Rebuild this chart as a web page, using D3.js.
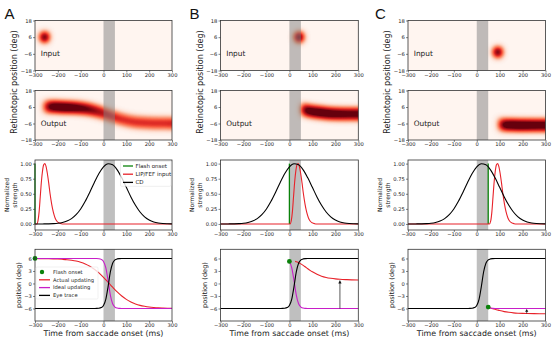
<!DOCTYPE html>
<html><head><meta charset="utf-8">
<script src="https://cdn.jsdelivr.net/npm/d3@7"></script>
<style>body{margin:0;background:#fff}svg{display:block}</style>
</head><body><svg id="c" width="554" height="337"></svg>
<script>
// ---------------- DATA ----------------
const timeTicks=[-300,-200,-100,0,100,200,300];
const mapPosTicks=[-18,-6,6,18];
const strengthTicks=[0,0.25,0.5,0.75,1];
const posTicks=[-6,-3,0,3,6];
const saccadeWindow=[0,50];
const panelLetters=["A","B","C"];
const strengthLegend=["Flash onset","LIP/FEF input","CD"];
const posLegend=["Flash onset","Actual updating","Ideal updating","Eye trace"];

const flashTime=[-300,0,50];
const flashPos=[6,5.28,-5.65];

// input blobs (heatmap row 1)
const inputTime=[-258,42,92];
const inputPos=[6,6,-4.8];
const inputPeak=[1,1,1];

// output bands (heatmap row 2)
const outputTimeA=[-266,-256,-246,-236,-220,-200,-170,-140,-110,-80,-50,-25,0,25,50,75,100,130,160,200,250,300];
const outputPosA=[6.2,6.2,6.2,6.2,6.1,6.0,5.8,5.6,5.3,4.7,3.8,2.7,1.5,0,-1.5,-2.8,-3.8,-4.7,-5.25,-5.65,-5.85,-5.95];
const outputIntA=[0.2,0.55,0.8,0.9,0.97,1,1,0.97,0.92,0.86,0.8,0.74,0.68,0.63,0.6,0.58,0.57,0.57,0.57,0.57,0.57,0.57];
const outputTimeB=[50,57,67,80,100,125,150,175,200,250,300];
const outputPosB=[4.4,4.2,3.8,3.3,2.7,2.1,1.65,1.35,1.15,0.95,0.85];
const outputIntB=[0.45,0.8,0.9,0.95,0.98,1,1,0.98,0.95,0.92,0.9];
const outputTimeC=[94,102,115,130,150,175,200,250,300];
const outputPosC=[-6.6,-6.7,-6.9,-7.0,-7.1,-7.2,-7.25,-7.3,-7.3];
const outputIntC=[0.45,0.75,0.92,0.97,1,1,1,0.97,0.95];

// normalized strength (row 3)
const cdTime=[-300,-280,-260,-240,-220,-200,-180,-160,-140,-120,-100,-80,-60,-40,-20,0,20,40,60,80,100,120,140,160,180,200,220,240,260,280,300];
const cdValue=[0,0,0.001,0.002,0.005,0.011,0.024,0.048,0.089,0.154,0.249,0.375,0.526,0.687,0.835,0.946,0.998,0.98,0.897,0.764,0.607,0.448,0.309,0.198,0.118,0.066,0.034,0.016,0.007,0.003,0.001];
const lipTimeA=[-300,-292,-287,-282,-277,-272,-267,-262,-257,-252,-246,-240,-234,-227,-220,-212,-204,-195,-185,-175,300];
const lipValueA=[0,0,0.05,0.2,0.45,0.7,0.88,0.98,1,0.96,0.84,0.68,0.5,0.33,0.2,0.1,0.045,0.018,0.005,0,0];
const lipTimeB=[-300,3,8,13,18,23,28,33,38,43,49,55,61,68,75,83,91,100,110,120,300];
const lipValueB=[0,0,0.05,0.2,0.45,0.7,0.88,0.98,1,0.96,0.84,0.68,0.5,0.33,0.2,0.1,0.045,0.018,0.005,0,0];
const lipTimeC=[-300,55,61,66,71,76,81,86,91,96,102,108,114,121,128,136,144,153,163,173,300];
const lipValueC=[0,0,0.05,0.2,0.45,0.7,0.88,0.98,1,0.96,0.84,0.68,0.5,0.33,0.2,0.1,0.045,0.018,0.005,0,0];

// position traces (row 4)
const eyeTime=[-300,-60,-40,-30,-20,-10,0,10,20,30,40,50,60,70,80,300];
const eyePos=[-6,-6,-5.99,-5.98,-5.94,-5.78,-5.28,-3.81,-0.75,2.77,4.86,5.65,5.9,5.97,6,6];
const idealTimeA=[-300,-60,-40,-30,-20,-10,0,10,20,30,40,50,60,70,80,300];
const idealPosA=[6,6,5.99,5.98,5.94,5.78,5.28,3.81,0.75,-2.77,-4.86,-5.65,-5.9,-5.97,-6,-6];
const idealTimeB=[0,10,20,30,40,50,60,70,80,300];
const idealPosB=[5.28,3.81,0.75,-2.77,-4.86,-5.65,-5.9,-5.97,-6,-6];
const idealTimeC=[50,60,70,80,300];
const idealPosC=[-5.65,-5.9,-5.97,-6,-6];
const actualTimeA=[-300,-280,-260,-240,-220,-200,-180,-160,-140,-120,-100,-80,-60,-40,-20,0,20,40,60,80,100,120,140,160,180,200,220,240,260,280,300];
const actualPosA=[5.98,5.97,5.96,5.94,5.91,5.87,5.80,5.71,5.57,5.38,5.09,4.69,4.15,3.43,2.53,1.47,0.30,-0.89,-2.02,-3.0,-3.81,-4.43,-4.91,-5.25,-5.48,-5.65,-5.76,-5.84,-5.89,-5.93,-5.95];
const actualTimeB=[25,30,40,50,60,70,80,90,100,120,140,160,180,200,220,250,300];
const actualPosB=[5.3,5.2,5.0,4.7,4.35,3.95,3.55,3.15,2.8,2.2,1.75,1.45,1.25,1.1,1.0,0.92,0.85];
const actualTimeC=[52,60,70,80,90,100,120,140,160,180,200,220,250,300];
const actualPosC=[-5.75,-5.9,-6.05,-6.2,-6.35,-6.5,-6.75,-6.92,-7.05,-7.13,-7.18,-7.21,-7.24,-7.25];
const arrowTime=[null,220,218];
const arrowFrom=[null,-6,-7.2];
const arrowTo=[null,0.85,-6.1];

// ---------------- LAYOUT / STYLE ----------------
const COLS=[{x0:35,x1:172},{x0:220.5,x1:358.3},{x0:408,x1:545.5}];
const ROWS={inp:[20.5,70.5],out:[90.5,140],str:[160,230],pos:[249.3,321]};
const FONT="DejaVu Sans";
const TICKFS=5.2;
const C_RED="#e8222a", C_MAG="#c81ec8", C_GRN="#0a820a", C_BLK="#000";
const SIGMA=3.2, GAIN=1.3, BAND_HALF=4.0, BLOB_RX=4.8, BLOB_RY=5.4;

const svg=d3.select("#c");
const defs=svg.append("defs");
const NT=17;
const redsTable=d3.range(NT).map(i=>d3.rgb(d3.interpolateReds(i/(NT-1))));

function fmtTick(d){return d<0?"\u2212"+Math.abs(d):String(d);}
function styleAxis(g){
  g.attr("font-family",FONT).attr("font-size",TICKFS);
  g.select(".domain").remove();
  g.selectAll(".tick line").attr("stroke","#333").attr("stroke-width",0.6);
  g.selectAll(".tick text").attr("fill","#222");
}
function frame(x0,y0,x1,y1){
  svg.append("rect").attr("x",x0).attr("y",y0).attr("width",x1-x0).attr("height",y1-y0)
    .attr("fill","none").attr("stroke","#333").attr("stroke-width",0.8);
}
function axes(x,y,x0,y0,x1,y1,yticks,yfmt){
  svg.append("g").attr("transform",`translate(0,${y1})`)
    .call(d3.axisBottom(x).tickValues(timeTicks).tickSize(2).tickPadding(0.8).tickFormat(fmtTick)).call(styleAxis);
  svg.append("g").attr("transform",`translate(${x0},0)`)
    .call(d3.axisLeft(y).tickValues(yticks).tickSize(2).tickPadding(1.2).tickFormat(yfmt)).call(styleAxis);
}
function addHeatFilter(id,x0,y0,x1,y1){
  const pad=20;
  const f=defs.append("filter").attr("id",id).attr("filterUnits","userSpaceOnUse")
    .attr("x",x0-pad).attr("y",y0-pad).attr("width",x1-x0+2*pad).attr("height",y1-y0+2*pad)
    .attr("color-interpolation-filters","sRGB");
  f.append("feGaussianBlur").attr("in","SourceAlpha").attr("stdDeviation",SIGMA).attr("result","b");
  f.append("feColorMatrix").attr("in","b").attr("type","matrix")
    .attr("values",`0 0 0 ${GAIN} 0  0 0 0 ${GAIN} 0  0 0 0 ${GAIN} 0  0 0 0 0 1`).attr("result","m");
  const ct=f.append("feComponentTransfer").attr("in","m");
  ["r","g","b"].forEach(ch=>ct.append("feFunc"+ch.toUpperCase()).attr("type","table")
    .attr("tableValues",redsTable.map(c=>(c[ch]/255).toFixed(4)).join(" ")));
  defs.append("clipPath").attr("id","clip-"+id).append("rect")
    .attr("x",x0).attr("y",y0).attr("width",x1-x0).attr("height",y1-y0);
}
function saccadeBand(g,x,y0,y1){
  g.append("rect").attr("x",x(saccadeWindow[0])).attr("y",y0)
   .attr("width",x(saccadeWindow[1])-x(saccadeWindow[0])).attr("height",y1-y0)
   .attr("fill","#808080").attr("fill-opacity",0.5);
}
function mapPanel(ci,rowKey,label,drawFn){
  const {x0,x1}=COLS[ci]; const [y0,y1]=ROWS[rowKey];
  const x=d3.scaleLinear([-300,300],[x0,x1]);
  const y=d3.scaleLinear([-18,18],[y1,y0]);
  const id=`heat-${rowKey}-${ci}`;
  addHeatFilter(id,x0,y0,x1,y1);
  const outer=svg.append("g").attr("clip-path",`url(#clip-${id})`);
  const inner=outer.append("g").attr("filter",`url(#${id})`);
  inner.append("rect").attr("x",x0-20).attr("y",y0-20).attr("width",x1-x0+40).attr("height",y1-y0+40)
    .attr("fill","#000").attr("fill-opacity",0.0);
  drawFn(inner,x,y,id);
  saccadeBand(outer,x,y0,y1);
  frame(x0,y0,x1,y1);
  axes(x,y,x0,y0,x1,y1,mapPosTicks,fmtTick);
  svg.append("text").attr("x",x(-275)).attr("y",rowKey==="inp"?55.5:125.5)
    .attr("font-family",FONT).attr("font-size",7.4).attr("fill","#222").text(label);
}

// ---------- Heatmaps ----------
const outputs=[[outputTimeA,outputPosA,outputIntA],[outputTimeB,outputPosB,outputIntB],[outputTimeC,outputPosC,outputIntC]];
for(let ci=0;ci<3;ci++){
  mapPanel(ci,"inp","Input",(g,x,y)=>{
    g.append("ellipse").attr("cx",x(inputTime[ci])).attr("cy",y(inputPos[ci]))
      .attr("rx",BLOB_RX).attr("ry",BLOB_RY).attr("fill","#000").attr("fill-opacity",inputPeak[ci]);
  });
  mapPanel(ci,"out","Output",(g,x,y,id)=>{
    const [ts,ps,is]=outputs[ci];
    const pts=d3.zip(ts,ps);
    const gid="grad-"+id;
    const grad=defs.append("linearGradient").attr("id",gid).attr("gradientUnits","userSpaceOnUse")
      .attr("x1",x(ts[0])).attr("x2",x(ts[ts.length-1])).attr("y1",0).attr("y2",0);
    ts.forEach((t,i)=>grad.append("stop").attr("offset",(t-ts[0])/(ts[ts.length-1]-ts[0]))
      .attr("stop-color","#000").attr("stop-opacity",is[i]));
    const area=d3.area().x(d=>x(d[0])).y0(d=>y(d[1]-BAND_HALF)).y1(d=>y(d[1]+BAND_HALF)).curve(d3.curveMonotoneX);
    g.append("path").attr("d",area(pts)).attr("fill",`url(#${gid})`);
    // continue past right edge so the blur does not fade the band at the border
    const last=pts[pts.length-1];
    g.append("rect").attr("x",x(last[0])-0.5).attr("width",20)
      .attr("y",y(last[1]+BAND_HALF)).attr("height",y(last[1]-BAND_HALF)-y(last[1]+BAND_HALF))
      .attr("fill","#000").attr("fill-opacity",is[is.length-1]);
  });
  // Retinotopic label
  svg.append("text").attr("transform",`translate(${COLS[ci].x0-20.5},82) rotate(-90)`)
    .attr("text-anchor","middle").attr("dy","0.35em").attr("font-family",FONT).attr("font-size",8)
    .attr("fill","#222").text("Retinotopic position (deg)");
  svg.append("text").attr("x",[4.5,189.5,375][ci]).attr("y",18.5)
    .attr("font-family","Liberation Sans, Arial, sans-serif").attr("font-size",15).attr("fill","#111").text(panelLetters[ci]);
}

// ---------- Row 3: normalized strength ----------
const lips=[[lipTimeA,lipValueA],[lipTimeB,lipValueB],[lipTimeC,lipValueC]];
for(let ci=0;ci<3;ci++){
  const {x0,x1}=COLS[ci]; const [y0,y1]=ROWS.str;
  const x=d3.scaleLinear([-300,300],[x0,x1]);
  const y=d3.scaleLinear([-0.1,1.06],[y1,y0]);
  const g=svg.append("g");
  saccadeBand(g,x,y0,y1);
  const ln=d3.line().x(d=>x(d[0])).y(d=>y(d[1])).curve(d3.curveMonotoneX);
  g.append("line").attr("x1",x(flashTime[ci])).attr("x2",x(flashTime[ci])).attr("y1",y(0)).attr("y2",y(1))
    .attr("stroke",C_GRN).attr("stroke-width",1.3);
  g.append("path").attr("d",ln(d3.zip(lips[ci][0],lips[ci][1]))).attr("fill","none").attr("stroke",C_RED).attr("stroke-width",1.1);
  g.append("path").attr("d",ln(d3.zip(cdTime,cdValue))).attr("fill","none").attr("stroke",C_BLK).attr("stroke-width",1.1);
  frame(x0,y0,x1,y1);
  axes(x,y,x0,y0,x1,y1,strengthTicks,d3.format(".2f"));
  svg.append("text").attr("transform",`translate(${x0-28.5},195) rotate(-90)`).attr("text-anchor","middle").attr("dy","0.35em")
    .attr("font-family",FONT).attr("font-size",6).attr("fill","#222").text("Normalized");
  svg.append("text").attr("transform",`translate(${x0-20.5},195) rotate(-90)`).attr("text-anchor","middle").attr("dy","0.35em")
    .attr("font-family",FONT).attr("font-size",6).attr("fill","#222").text("strength");
  if(ci===0){
    const lg=svg.append("g");
    lg.append("rect").attr("x",120.5).attr("y",161.3).attr("width",50.5).attr("height",25)
      .attr("rx",1.2).attr("fill","#fff").attr("fill-opacity",0.8).attr("stroke","#ddd").attr("stroke-width",0.5);
    const cols=[C_GRN,C_RED,C_BLK];
    strengthLegend.forEach((t,i)=>{
      const yy=166+i*8.2;
      lg.append("line").attr("x1",123).attr("x2",133).attr("y1",yy).attr("y2",yy).attr("stroke",cols[i]).attr("stroke-width",1.3);
      lg.append("text").attr("x",135.5).attr("y",yy).attr("dy","0.35em").attr("font-family",FONT)
        .attr("font-size",5.5).attr("fill","#222").text(t);
    });
  }
}

// ---------- Row 4: position ----------
const ideals=[[idealTimeA,idealPosA],[idealTimeB,idealPosB],[idealTimeC,idealPosC]];
const actuals=[[actualTimeA,actualPosA],[actualTimeB,actualPosB],[actualTimeC,actualPosC]];
for(let ci=0;ci<3;ci++){
  const {x0,x1}=COLS[ci]; const [y0,y1]=ROWS.pos;
  const x=d3.scaleLinear([-300,300],[x0,x1]);
  const y=d3.scaleLinear([-9,8.2],[y1,y0]);
  const g=svg.append("g");
  saccadeBand(g,x,y0,y1);
  const ln=d3.line().x(d=>x(d[0])).y(d=>y(d[1])).curve(d3.curveMonotoneX);
  g.append("path").attr("d",ln(d3.zip(actuals[ci][0],actuals[ci][1]))).attr("fill","none").attr("stroke",C_RED).attr("stroke-width",1.1);
  g.append("path").attr("d",ln(d3.zip(ideals[ci][0],ideals[ci][1]))).attr("fill","none").attr("stroke",C_MAG).attr("stroke-width",1.1);
  g.append("path").attr("d",ln(d3.zip(eyeTime,eyePos))).attr("fill","none").attr("stroke",C_BLK).attr("stroke-width",1.1);
  if(arrowTime[ci]!==null){
    const ax=x(arrowTime[ci]), ya=y(arrowFrom[ci]), yb=y(arrowTo[ci]);
    const hl=Math.min(3.5,(ya-yb)*0.6), hw=1.6;
    g.append("line").attr("x1",ax).attr("x2",ax).attr("y1",ya).attr("y2",yb+hl*0.8).attr("stroke","#111").attr("stroke-width",0.7);
    g.append("path").attr("d",`M${ax},${yb}L${ax-hw},${yb+hl}L${ax+hw},${yb+hl}Z`).attr("fill","#111");
  }
  g.append("circle").attr("cx",x(flashTime[ci])).attr("cy",y(flashPos[ci])).attr("r",2.4).attr("fill",C_GRN);
  frame(x0,y0,x1,y1);
  axes(x,y,x0,y0,x1,y1,posTicks,fmtTick);
  svg.append("text").attr("transform",`translate(${x0-16},285) rotate(-90)`).attr("text-anchor","middle").attr("dy","0.35em")
    .attr("font-family",FONT).attr("font-size",6.6).attr("fill","#222").text("position (deg)");
  svg.append("text").attr("x",(x0+x1)/2).attr("y",336.3).attr("text-anchor","middle")
    .attr("font-family",FONT).attr("font-size",7.9).attr("fill","#222").text("Time from saccade onset (ms)");
  if(ci===0){
    const lg=svg.append("g");
    lg.append("rect").attr("x",36).attr("y",267).attr("width",62).attr("height",32)
      .attr("rx",1.2).attr("fill","#fff").attr("fill-opacity",0.8).attr("stroke","#e2e2e2").attr("stroke-width",0.5);
    const cols=[C_GRN,C_RED,C_MAG,C_BLK];
    posLegend.forEach((t,i)=>{
      const yy=272+i*7.8;
      if(i===0) lg.append("circle").attr("cx",42).attr("cy",yy).attr("r",2.2).attr("fill",C_GRN);
      else lg.append("line").attr("x1",39).attr("x2",50).attr("y1",yy).attr("y2",yy).attr("stroke",cols[i]).attr("stroke-width",1.3);
      lg.append("text").attr("x",53).attr("y",yy).attr("dy","0.35em").attr("font-family",FONT)
        .attr("font-size",5.2).attr("fill","#222").text(t);
    });
  }
}
</script></body></html>
